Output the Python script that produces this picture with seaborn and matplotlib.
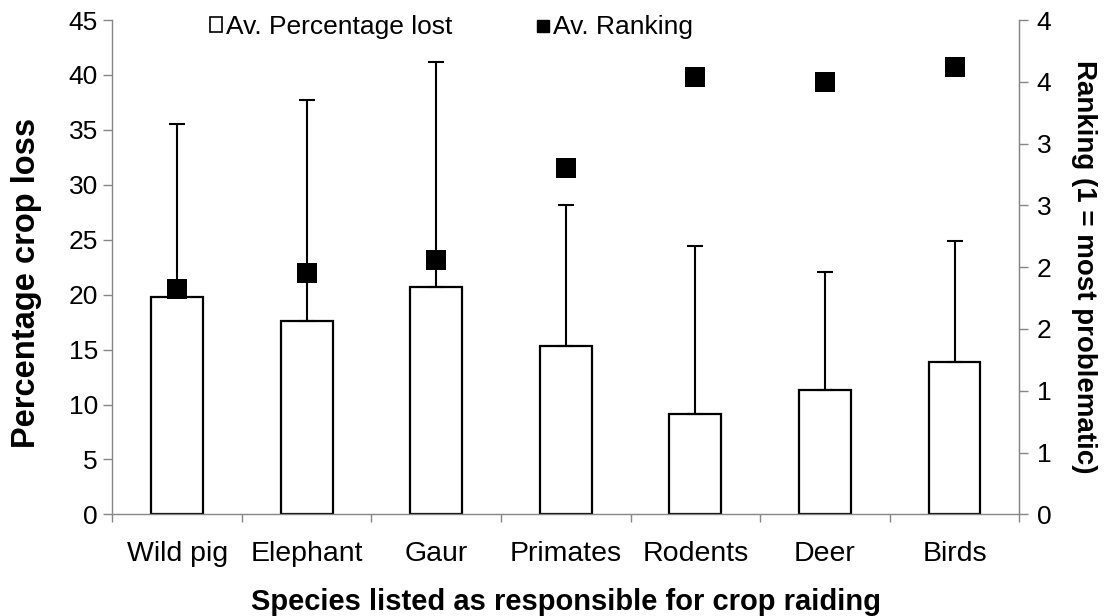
import numpy as np
import pandas as pd
import seaborn as sns
import matplotlib.pyplot as plt
from matplotlib.patches import Patch
from matplotlib.lines import Line2D
from matplotlib.ticker import FuncFormatter, FixedLocator

# data
species = ["Wild pig", "Elephant", "Gaur", "Primates", "Rodents", "Deer", "Birds"]
pct_lost = [19.8, 17.6, 20.7, 15.3, 9.1, 11.3, 13.9]
pct_err = [15.7, 20.1, 20.5, 12.9, 15.3, 10.8, 11.0]
av_rank = [1.82, 1.95, 2.06, 2.80, 3.54, 3.50, 3.62]

df = pd.DataFrame({"species": species, "pct": pct_lost, "err": pct_err, "rank": av_rank})

sns.set_style("white")
plt.rcParams["font.family"] = ["Liberation Sans", "DejaVu Sans"]
plt.rcParams["text.color"] = "black"
plt.rcParams["axes.labelcolor"] = "black"

grey = "#868686"
fig, ax = plt.subplots(figsize=(11.09, 6.16), dpi=100)
fig.subplots_adjust(left=0.1013, right=0.9191, bottom=0.165, top=0.9675)

sns.barplot(data=df, x="species", y="pct", color="white", edgecolor="black",
            linewidth=1.6, width=0.4, ax=ax, errorbar=None, saturation=1)
pos = np.arange(len(species))
ax.errorbar(pos, df["pct"], yerr=[np.zeros(len(df)), df["err"]], fmt="none",
            ecolor="black", elinewidth=1.5, capsize=6, capthick=1.5, zorder=3)

ax.set_xlim(-0.5, len(species) - 0.5)
ax.set_ylim(0, 45)
ax.set_yticks(np.arange(0, 46, 5))
ax.tick_params(axis="y", direction="out", length=6.5, width=1, color=grey,
               labelcolor="black", labelsize=19, left=True, pad=4)
ax.set_xticks(pos)
ax.set_xticklabels(species)
ax.tick_params(axis="x", which="major", length=0, labelsize=20.5,
               labelcolor="black", pad=19)
ax.xaxis.set_minor_locator(FixedLocator(np.arange(-0.5, len(species), 1)))
ax.tick_params(axis="x", which="minor", direction="out", length=6, width=1,
               color=grey, bottom=True)
for s in ["left", "bottom", "right"]:
    ax.spines[s].set_color(grey)
    ax.spines[s].set_linewidth(1)
ax.spines["top"].set_visible(False)
ax.set_xlabel("Species listed as responsible for crop raiding", fontsize=21,
              fontweight="bold", labelpad=15)
ax.set_ylabel("Percentage crop loss", fontsize=23.5, fontweight="bold")
ax.yaxis.set_label_coords(-0.078, 0.468)

ax2 = ax.twinx()
sns.scatterplot(x=pos, y=df["rank"], marker="s", s=215, color="black",
                linewidth=0, ax=ax2, zorder=4)
ax2.set_ylim(0, 4)
ax2.set_yticks(np.arange(0, 4.01, 0.5))
ax2.yaxis.set_major_formatter(FuncFormatter(lambda v, p: f"{int(np.floor(v + 0.5))}"))
ax2.tick_params(axis="y", direction="out", length=6.5, width=1, color=grey,
                labelcolor="black", labelsize=19, right=True, pad=6)
for s in ["left", "bottom", "top"]:
    ax2.spines[s].set_visible(False)
ax2.spines["right"].set_color(grey)
ax2.set_ylabel("Ranking (1 = most problematic)", fontsize=20, fontweight="bold",
               rotation=270, labelpad=33)

handles = [Patch(facecolor="white", edgecolor="black", linewidth=1.2,
                 label="Av. Percentage lost"),
           Line2D([], [], marker="s", color="black", linestyle="none",
                  markersize=8, label="Av. Ranking")]
ax.legend(handles=handles, ncol=2, loc="center", bbox_to_anchor=(0.374, 0.986),
          frameon=False, fontsize=19, handlelength=0.45, handleheight=0.45,
          handletextpad=0.15, columnspacing=3.2, borderaxespad=0)

fig.savefig("out.png", dpi=100)
